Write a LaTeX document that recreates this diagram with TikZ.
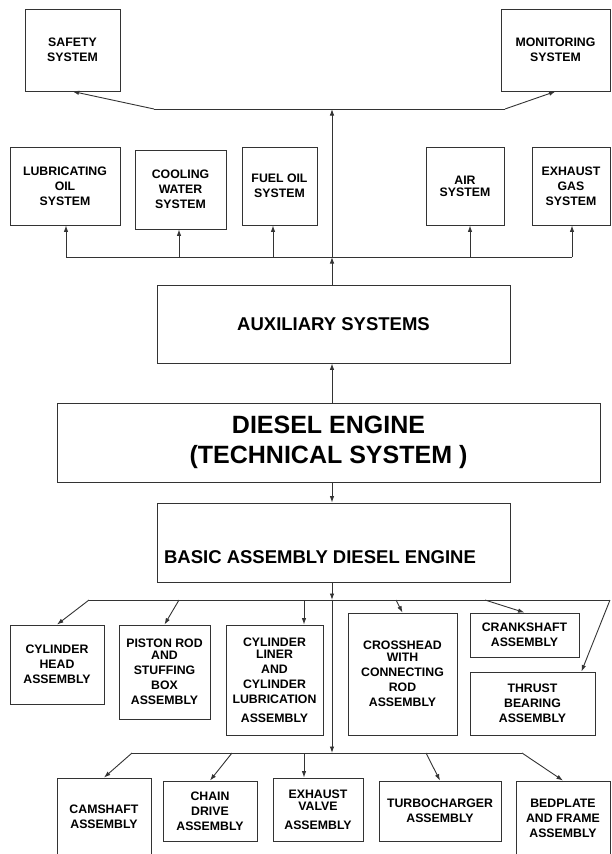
\documentclass[tikz,border=0pt]{standalone}
\usepackage{fontspec}
\setmainfont{Liberation Sans}
\usetikzlibrary{arrows.meta}

\begin{document}
\begin{tikzpicture}[
  x=1pt, y=-1pt,
  sysbox/.style={draw=black!80, line width=0.9pt, inner sep=0pt, align=center,
                 font=\fontsize{12.3}{15}\selectfont\bfseries},
  bigbox/.style={sysbox, font=\fontsize{18.5}{22}\selectfont\bfseries},
  enginebox/.style={sysbox, font=\fontsize{25}{30}\selectfont\bfseries},
  arr/.style={draw=black!80, line width=0.9pt, -{Latex[length=6.5pt,width=4.5pt]}},
  bus/.style={draw=black!80, line width=0.9pt},
]

\useasboundingbox (0,0) rectangle (611,854);
\clip (0,0) rectangle (611,854);

%% ── Top row ──────────────────────────────────────────────────────────────────
\node[sysbox, minimum width=95pt,  minimum height=82pt] (safety)  at (72.5,50)  {SAFETY\\SYSTEM};
\node[sysbox, minimum width=109pt, minimum height=82pt] (monitor) at (555.5,50) {MONITORING\\SYSTEM};

%% ── Auxiliary sub-systems ────────────────────────────────────────────────────
\node[sysbox, minimum width=110pt, minimum height=78pt] (lube)    at (65,186)    {LUBRICATING\\OIL\\SYSTEM};
\node[sysbox, minimum width=91pt,  minimum height=79pt] (cooling) at (180.5,189.5) {COOLING\\WATER\\SYSTEM};
\node[sysbox, minimum width=75pt,  minimum height=78pt] (fueloil) at (279.5,186) {FUEL OIL\\SYSTEM};
\node[sysbox, minimum width=78pt,  minimum height=78pt] (air)     at (465,186)   {AIR\\[-3pt]SYSTEM};
\node[sysbox, minimum width=78pt,  minimum height=78pt] (exhgas)  at (571,186)   {EXHAUST\\GAS\\SYSTEM};

%% ── Main column ──────────────────────────────────────────────────────────────
\node[bigbox, minimum width=353pt, minimum height=78pt] (aux) at (333.5,324) {AUXILIARY SYSTEMS};
\node[enginebox, minimum width=543pt, minimum height=79pt] (diesel) at (328.5,442.5)
  {DIESEL ENGINE\\(TECHNICAL SYSTEM )};
\node[bigbox, minimum width=353pt, minimum height=79pt] (basic) at (333.5,542.5) {};
\node[font=\fontsize{18.5}{22}\selectfont\bfseries, anchor=base] (basiclbl) at (320,563.5)
  {BASIC ASSEMBLY DIESEL ENGINE};

%% ── Assemblies, first row ────────────────────────────────────────────────────
\node[sysbox, minimum width=94pt,  minimum height=79pt]  (cylhead)   at (57,664.5)   {CYLINDER\\HEAD\\ASSEMBLY};
\node[sysbox, minimum width=91pt,  minimum height=94pt]  (piston)    at (164.5,672)  {PISTON ROD\\[-3pt]AND\\STUFFING\\BOX\\ASSEMBLY};
\node[sysbox, minimum width=97pt,  minimum height=110pt] (liner)     at (274.5,680)  {CYLINDER\\[-3pt]LINER\\AND\\CYLINDER\\LUBRICATION\\[4pt]ASSEMBLY};
\node[sysbox, minimum width=109pt, minimum height=122pt] (crosshead) at (402.5,674)  {CROSSHEAD\\[-3pt]WITH\\CONNECTING\\ROD\\ASSEMBLY};
\node[sysbox, minimum width=109pt, minimum height=44pt]  (crank)     at (524.5,635)  {CRANKSHAFT\\ASSEMBLY};
\node[sysbox, minimum width=125pt, minimum height=63pt]  (thrust)    at (532.5,703.5) {THRUST\\BEARING\\ASSEMBLY};

%% ── Assemblies, second row ───────────────────────────────────────────────────
\node[sysbox, minimum width=94pt,  minimum height=77pt] (camshaft) at (104,816.5) {CAMSHAFT\\ASSEMBLY};
\node[sysbox, minimum width=94pt,  minimum height=60pt] (chain)    at (210,811)   {CHAIN\\DRIVE\\ASSEMBLY};
\node[sysbox, minimum width=90pt,  minimum height=63pt] (valve)    at (318,809.5) {EXHAUST\\[-3pt]VALVE\\[4pt]ASSEMBLY};
\node[sysbox, minimum width=122pt, minimum height=60pt] (turbo)    at (440,811)   {TURBOCHARGER\\ASSEMBLY};
\node[sysbox, minimum width=94pt,  minimum height=75pt] (bedplate) at (563,818.5) {BEDPLATE\\AND FRAME\\ASSEMBLY};

%% ── Bus points ───────────────────────────────────────────────────────────────
\coordinate (topL) at (154,109);
\coordinate (topM) at (332,109);
\coordinate (topR) at (505,109);

\coordinate (auxM)    at (332,257);
\coordinate (lubeIn)  at (66,257);
\coordinate (coolIn)  at (179,257);
\coordinate (fuelIn)  at (273,257);
\coordinate (airIn)   at (470,257);
\coordinate (exhIn)   at (572,257);

\coordinate (asmM)    at (332,600);
\coordinate (asmL)    at (89,600);
\coordinate (asmR)    at (610,600);
\coordinate (pistonIn) at (179,600);
\coordinate (linerIn) at (304,600);
\coordinate (crossIn) at (396,600);
\coordinate (crankIn) at (485,600);

\coordinate (subM)    at (332,753);
\coordinate (subL)    at (132,753);
\coordinate (subR)    at (522,753);
\coordinate (chainIn) at (232,753);
\coordinate (valveIn) at (304,753);
\coordinate (turboIn) at (426,753);

%% ── Upward flow ──────────────────────────────────────────────────────────────
\draw[arr] (auxM |- diesel.north) -- (auxM |- aux.south);
\draw[arr] (auxM |- aux.north) -- (auxM);
\draw[arr] (auxM) -- (topM);

\draw[bus] (topL) -- (topR);
\draw[arr] (topL) -- (safety.south);
\draw[arr] (topR) -- (monitor.south);

\draw[bus] (lubeIn) -- (exhIn);
\draw[arr] (lubeIn) -- (lubeIn |- lube.south);
\draw[arr] (coolIn) -- (coolIn |- cooling.south);
\draw[arr] (fuelIn) -- (fuelIn |- fueloil.south);
\draw[arr] (airIn)  -- (airIn |- air.south);
\draw[arr] (exhIn)  -- (exhIn |- exhgas.south);

%% ── Downward flow ────────────────────────────────────────────────────────────
\draw[arr] (asmM |- diesel.south) -- (asmM |- basic.north);
\draw[arr] (asmM |- basic.south) -- (asmM);
\draw[arr] (asmM) -- (subM);

\draw[bus] (asmL) -- (asmR);
\draw[arr] (asmL)     -- (cylhead.north);
\draw[arr] (pistonIn) -- (piston.north);
\draw[arr] (linerIn)  -- (linerIn |- liner.north);
\draw[arr] (crossIn)  -- (crosshead.north);
\draw[arr] (crankIn)  -- (crank.north);
\draw[arr] (asmR)     -- ([xshift=-14pt]thrust.north east);

\draw[bus] (subL) -- (subR);
\draw[arr] (subL)    -- (camshaft.north);
\draw[arr] (chainIn) -- (chain.north);
\draw[arr] (valveIn) -- (valveIn |- valve.north);
\draw[arr] (turboIn) -- (turbo.north);
\draw[arr] (subR)    -- (bedplate.north);

\end{tikzpicture}
\end{document}
